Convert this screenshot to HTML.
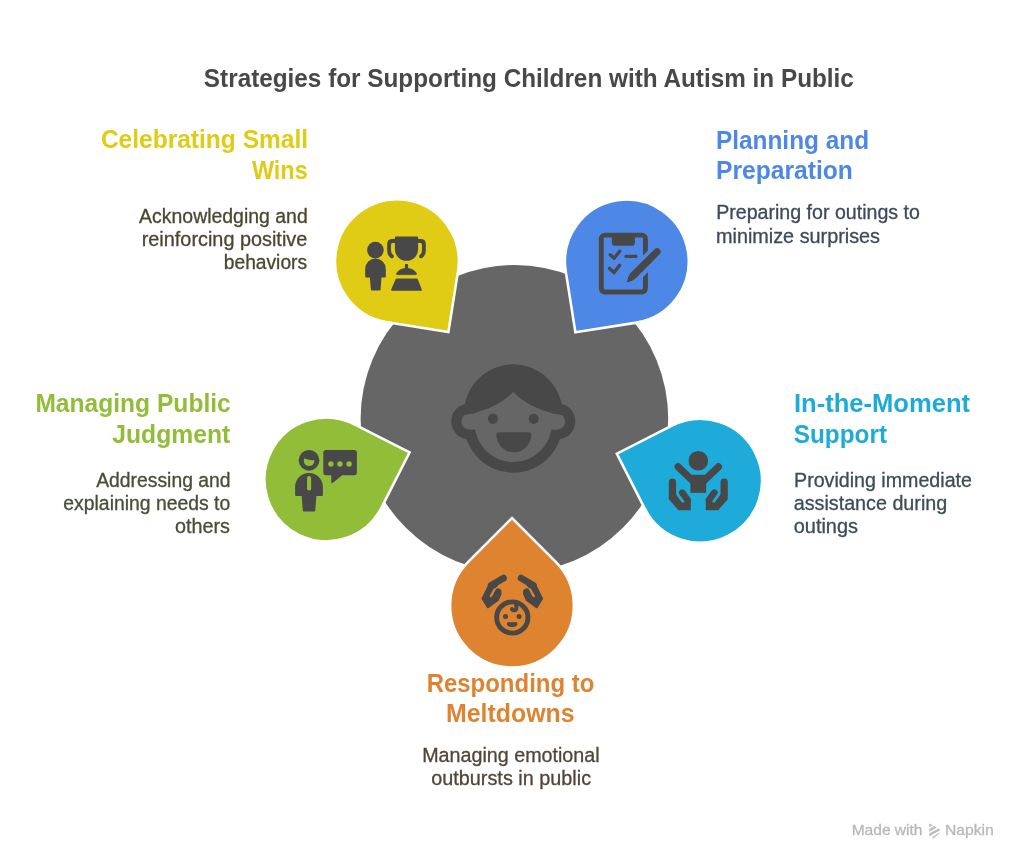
<!DOCTYPE html>
<html lang="en"><head><meta charset="utf-8"><title>Strategies for Supporting Children with Autism in Public</title>
<style>html,body{margin:0;padding:0;background:#fff}body{width:1024px;height:866px;overflow:hidden}svg{display:block;will-change:transform}text{white-space:pre;font-family:"Liberation Sans",sans-serif}</style>
</head><body>
<svg width="1024" height="866" viewBox="0 0 1024 866">
<circle cx="514.4" cy="418.8" r="153.8" fill="#666666"/>
<path d="M448.40,332.00 L458.08,270.86 A61.90,61.90 0 1 0 387.26,322.32 Z" fill="#E0CB15" stroke="#ffffff" stroke-width="2.56" stroke-linejoin="miter"/>
<path d="M575.40,332.30 L636.54,322.62 A61.90,61.90 0 1 0 565.72,271.16 Z" fill="#4E88E7" stroke="#ffffff" stroke-width="2.56" stroke-linejoin="miter"/>
<path d="M409.60,452.40 L354.45,424.30 A61.90,61.90 0 1 0 381.50,507.55 Z" fill="#92BD39" stroke="#ffffff" stroke-width="2.56" stroke-linejoin="miter"/>
<path d="M616.80,453.70 L644.90,508.85 A61.90,61.90 0 1 0 671.95,425.60 Z" fill="#1EABDA" stroke="#ffffff" stroke-width="2.56" stroke-linejoin="miter"/>
<path d="M512.00,518.05 L468.23,561.82 A61.90,61.90 0 1 0 555.77,561.82 Z" fill="#DE8431" stroke="#ffffff" stroke-width="2.56" stroke-linejoin="miter"/>
<circle cx="469.17" cy="421.51" r="17.89" fill="#484848"/>
<circle cx="557.37" cy="421.51" r="17.89" fill="#484848"/>
<path d="M464.09,413.69 A49.18,49.18 0 0 1 562.45,413.69 L562.45,423.48 A49.18,49.18 0 0 1 464.09,423.48 Z" fill="#484848"/>
<path d="M474.66,413.69 A38.61,38.61 0 0 1 551.88,413.69 L551.88,423.48 A38.61,38.61 0 0 1 474.66,423.48 Z" fill="#666666"/>
<circle cx="469.45" cy="421.51" r="8.03" fill="#666666"/>
<circle cx="557.09" cy="421.51" r="8.03" fill="#666666"/>
<rect x="469.45" y="413.48" width="87.64" height="16.06" fill="#666666"/>
<clipPath id="hc"><path d="M464.09,413.69 A49.18,49.18 0 0 1 562.45,413.69 L562.45,423.48 A49.18,49.18 0 0 1 464.09,423.48 Z"/><circle cx="469.17" cy="421.51" r="17.89"/><circle cx="557.37" cy="421.51" r="17.89"/></clipPath>
<path d="M513.27,391.92 Q495.66,410.23 461.14,415.87 L448.45,415.87 L448.45,355.00 L578.09,355.00 L578.09,415.87 L565.41,415.87 Q530.88,410.23 513.27,391.92 Z" fill="#484848" clip-path="url(#hc)"/>
<circle cx="492.98" cy="418.83" r="5.07" fill="#484848"/>
<circle cx="533.70" cy="418.83" r="5.07" fill="#484848"/>
<path d="M496.36,434.42 Q496.36,432.22 498.56,432.22 L529.11,432.22 Q531.31,432.22 531.31,434.42 A17.47,17.81 0 0 1 496.36,434.42 Z" fill="#484848"/>
<circle cx="375.4" cy="250.1" r="8.35" fill="#484848"/>
<path d="M365.2,276.6 L365.2,268.9 A10.3,10.3 0 0 1 385.8,268.9 L385.8,276.6 Q385.8,277.6 384.8,277.6 L381.5,277.6 L380.6,289.6 Q380.5,290.6 379.5,290.6 L372,290.6 Q371,290.6 370.9,289.6 L369.8,277.6 L366.2,277.6 Q365.2,277.6 365.2,276.6 Z" fill="#484848"/>
<path d="M395.9,236.5 L417.1,236.5 Q418.1,236.5 418.1,237.5 L418.1,249.2 A11.6,11.6 0 0 1 394.9,249.2 L394.9,237.5 Q394.9,236.5 395.9,236.5 Z" fill="#484848"/>
<path d="M395.5,241 L392.4,241 Q389.1,241 389.1,244.5 L389.1,250.5 Q389.1,254.3 391.9,256.3" fill="none" stroke="#484848" stroke-width="3.9" stroke-linecap="round"/>
<path d="M417.5,241 L420.6,241 Q423.9,241 423.9,244.5 L423.9,250.5 Q423.9,254.3 421.1,256.3" fill="none" stroke="#484848" stroke-width="3.9" stroke-linecap="round"/>
<rect x="404.9" y="263.9" width="3.2" height="6" rx="0.8" fill="#484848"/>
<path d="M397.3,274.7 Q396.0,274.7 396.6,273.3 Q399.6,268.35 406.5,268.35 Q413.4,268.35 416.4,273.3 Q417.0,274.7 415.7,274.7 Z" fill="#484848" stroke="#484848" stroke-width="0.5" stroke-linejoin="round"/>
<path d="M397.2,278.4 L416.2,278.4 Q417.5,278.4 417.9,279.6 L421.8,289.4 Q422.3,290.8 420.9,290.8 L392.1,290.8 Q390.7,290.8 391.2,289.4 L395.5,279.6 Q395.9,278.4 397.2,278.4 Z" fill="#484848"/>
<rect x="601.25" y="235.15" width="44.2" height="56.8" rx="3.6" fill="none" stroke="#484848" stroke-width="4.9"/>
<path d="M611.8,234 L634.9,234 L634.9,242.7 Q634.9,245.8 631.8,245.8 L614.9,245.8 Q611.8,245.8 611.8,242.7 Z" fill="#484848"/>
<path d="M610.3,254.8 L614.1,258.3 L619.6,251.2" fill="none" stroke="#484848" stroke-width="3.4" stroke-linecap="round" stroke-linejoin="round"/>
<path d="M609.5,268.4 L614.1,272.6 L619.6,265.3" fill="none" stroke="#484848" stroke-width="3.4" stroke-linecap="round" stroke-linejoin="round"/>
<path d="M626.0,256.4 L635.9,256.4" fill="none" stroke="#484848" stroke-width="3.4" stroke-linecap="round"/>
<path d="M660.25,249.05 L629.2,280.1" fill="none" stroke="#4E88E7" stroke-width="15.3" stroke-linecap="butt"/>
<path d="M657.1,251.7 L633.4,275.4" fill="none" stroke="#484848" stroke-width="7.2" stroke-linecap="round"/>
<path d="M630.3,273.4 L635.4,278.5 Q631.5,282 627.6,282.3 Q626.8,282.3 627,281.5 Q627.5,277 630.3,273.4 Z" fill="#484848"/>
<circle cx="309.04" cy="460.3" r="10.35" fill="#484848"/>
<clipPath id="gc"><circle cx="309.04" cy="460.7" r="5.3"/></clipPath>
<path d="M303,457.7 Q308.5,460.8 315,460.0 L316,470 L302,470 Z" fill="#92BD39" clip-path="url(#gc)"/>
<path d="M295.1,494.9 L295.1,486.8 A13.9,13.9 0 0 1 322.9,486.8 L322.9,494.9 Q322.9,496 321.8,496 L316.4,496 L315.2,510.5 Q315.1,511.6 314,511.6 L304,511.6 Q302.9,511.6 302.8,510.5 L301.7,496 L296.2,496 Q295.1,496 295.1,494.9 Z" fill="#484848"/>
<rect x="307.07" y="476" width="4.1" height="14.5" rx="2.05" fill="#92BD39"/>
<path d="M326,449.9 L354.2,449.9 Q356.9,449.9 356.9,452.6 L356.9,472.5 Q356.9,475.2 354.2,475.2 L342.2,475.2 L332.6,482.9 Q331.3,483.8 331.3,482.3 L331.2,475.2 L326,475.2 Q323.3,475.2 323.3,472.5 L323.3,452.6 Q323.3,449.9 326,449.9 Z" fill="#484848"/>
<circle cx="330.9" cy="464.1" r="2.75" fill="#92BD39"/>
<circle cx="339.96" cy="464.1" r="2.75" fill="#92BD39"/>
<circle cx="349.07" cy="464.1" r="2.75" fill="#92BD39"/>
<circle cx="698.3" cy="460.7" r="9.8" fill="#484848"/>
<rect x="690.45" y="474.8" width="15.7" height="18.0" fill="#484848"/>
<path d="M678.2,466.8 L694,482" fill="none" stroke="#484848" stroke-width="7.2" stroke-linecap="round"/>
<path d="M718.40,466.8 L702.60,482" fill="none" stroke="#484848" stroke-width="7.2" stroke-linecap="round"/>
<path d="M668.80,499.20 L668.80,482.05 A3.65,3.65 0 0 1 676.10,482.05 L676.10,494.20 L681.70,502.00 L684.50,501.50 L688.00,496.00 L690.80,499.20 L690.80,510.15 L678.45,510.15 Z" fill="#484848"/>
<path d="M682.30,492.70 L687.50,499.90" fill="none" stroke="#484848" stroke-width="6.7" stroke-linecap="round"/>
<path d="M678.20,495.20 L682.90,501.60" fill="none" stroke="#1EABDA" stroke-width="2.2" stroke-linecap="round"/>
<path d="M727.80,499.20 L727.80,482.05 A3.65,3.65 0 0 0 720.50,482.05 L720.50,494.20 L714.90,502.00 L712.10,501.50 L708.60,496.00 L705.80,499.20 L705.80,510.15 L718.15,510.15 Z" fill="#484848"/>
<path d="M714.30,492.70 L709.10,499.90" fill="none" stroke="#484848" stroke-width="6.7" stroke-linecap="round"/>
<path d="M718.40,495.20 L713.70,501.60" fill="none" stroke="#1EABDA" stroke-width="2.2" stroke-linecap="round"/>
<circle cx="512.3" cy="617.5" r="15.65" fill="none" stroke="#484848" stroke-width="4.9"/>
<circle cx="505.5" cy="616.5" r="2.5" fill="#484848"/>
<circle cx="519.1" cy="616.5" r="2.5" fill="#484848"/>
<path d="M506.9,624 Q506.9,621.6 509,622.0 Q512.2,622.6 515.3,622.0 Q517.4,621.6 517.4,624 Q517.4,627.0 512.15,627.0 Q506.9,627.0 506.9,624 Z" fill="#484848"/>
<path d="M516.2,603.8 L516.4,607.6 Q516.5,610.2 514.1,610.2 Q512.3,610.2 512.0,609.0" fill="none" stroke="#484848" stroke-width="4.0" stroke-linecap="round"/>
<path d="M503.50,578.10 L491.20,585.40" fill="none" stroke="#484848" stroke-width="6.7" stroke-linecap="round"/>
<path d="M489.60,583.90 L482.30,598.70 L487.80,607.50 L498.10,600.00 L500.90,593.60 L497.00,595.50 L492.60,597.40 L490.50,596.30 L494.60,588.00 L497.40,585.00 Z" fill="#484848" stroke="#484848" stroke-width="1.6" stroke-linejoin="round"/>
<path d="M498.10,591.70 L495.20,597.60" fill="none" stroke="#484848" stroke-width="6.6" stroke-linecap="round"/>
<path d="M494.50,589.20 L490.60,596.20" fill="none" stroke="#DE8431" stroke-width="2.0" stroke-linecap="round"/>
<path d="M521.10,578.10 L533.40,585.40" fill="none" stroke="#484848" stroke-width="6.7" stroke-linecap="round"/>
<path d="M535.00,583.90 L542.30,598.70 L536.80,607.50 L526.50,600.00 L523.70,593.60 L527.60,595.50 L532.00,597.40 L534.10,596.30 L530.00,588.00 L527.20,585.00 Z" fill="#484848" stroke="#484848" stroke-width="1.6" stroke-linejoin="round"/>
<path d="M526.50,591.70 L529.40,597.60" fill="none" stroke="#484848" stroke-width="6.6" stroke-linecap="round"/>
<path d="M530.10,589.20 L534.00,596.20" fill="none" stroke="#DE8431" stroke-width="2.0" stroke-linecap="round"/>
<text x="203.87" y="86.60" font-size="25.1" font-family="Liberation Sans, sans-serif" font-weight="700" fill="#484848" textLength="650.01" lengthAdjust="spacingAndGlyphs">Strategies for Supporting Children with Autism in Public</text>
<text x="100.92" y="148.30" font-size="25.1" font-family="Liberation Sans, sans-serif" font-weight="700" fill="#E0CB15" textLength="207.16" lengthAdjust="spacingAndGlyphs">Celebrating Small</text>
<text x="251.90" y="179.30" font-size="25.1" font-family="Liberation Sans, sans-serif" font-weight="700" fill="#E0CB15" textLength="55.82" lengthAdjust="spacingAndGlyphs">Wins</text>
<text x="139.10" y="223.20" font-size="19.3" font-family="Liberation Sans, sans-serif" font-weight="400" fill="#4A4730" stroke="#4A4730" stroke-width="0.3" textLength="168.64" lengthAdjust="spacingAndGlyphs">Acknowledging and</text>
<text x="141.71" y="246.20" font-size="19.3" font-family="Liberation Sans, sans-serif" font-weight="400" fill="#4A4730" stroke="#4A4730" stroke-width="0.3" textLength="165.58" lengthAdjust="spacingAndGlyphs">reinforcing positive</text>
<text x="223.75" y="269.40" font-size="19.3" font-family="Liberation Sans, sans-serif" font-weight="400" fill="#4A4730" stroke="#4A4730" stroke-width="0.3" textLength="83.35" lengthAdjust="spacingAndGlyphs">behaviors</text>
<text x="716.00" y="148.50" font-size="25.1" font-family="Liberation Sans, sans-serif" font-weight="700" fill="#4E88E7" textLength="153.05" lengthAdjust="spacingAndGlyphs">Planning and</text>
<text x="715.98" y="179.40" font-size="25.1" font-family="Liberation Sans, sans-serif" font-weight="700" fill="#4E88E7" textLength="136.84" lengthAdjust="spacingAndGlyphs">Preparation</text>
<text x="716.18" y="219.30" font-size="19.3" font-family="Liberation Sans, sans-serif" font-weight="400" fill="#3E495B" stroke="#3E495B" stroke-width="0.3" textLength="203.78" lengthAdjust="spacingAndGlyphs">Preparing for outings to</text>
<text x="716.02" y="242.50" font-size="19.3" font-family="Liberation Sans, sans-serif" font-weight="400" fill="#3E495B" stroke="#3E495B" stroke-width="0.3" textLength="163.94" lengthAdjust="spacingAndGlyphs">minimize surprises</text>
<text x="793.92" y="412.30" font-size="25.1" font-family="Liberation Sans, sans-serif" font-weight="700" fill="#1EABDA" textLength="176.23" lengthAdjust="spacingAndGlyphs">In-the-Moment</text>
<text x="793.77" y="442.80" font-size="25.1" font-family="Liberation Sans, sans-serif" font-weight="700" fill="#1EABDA" textLength="93.25" lengthAdjust="spacingAndGlyphs">Support</text>
<text x="794.07" y="486.60" font-size="19.3" font-family="Liberation Sans, sans-serif" font-weight="400" fill="#3C4D56" stroke="#3C4D56" stroke-width="0.3" textLength="177.88" lengthAdjust="spacingAndGlyphs">Providing immediate</text>
<text x="793.73" y="509.60" font-size="19.3" font-family="Liberation Sans, sans-serif" font-weight="400" fill="#3C4D56" stroke="#3C4D56" stroke-width="0.3" textLength="153.51" lengthAdjust="spacingAndGlyphs">assistance during</text>
<text x="793.72" y="532.80" font-size="19.3" font-family="Liberation Sans, sans-serif" font-weight="400" fill="#3C4D56" stroke="#3C4D56" stroke-width="0.3" textLength="64.29" lengthAdjust="spacingAndGlyphs">outings</text>
<text x="35.39" y="412.30" font-size="25.1" font-family="Liberation Sans, sans-serif" font-weight="700" fill="#92BD39" textLength="195.37" lengthAdjust="spacingAndGlyphs">Managing Public</text>
<text x="112.21" y="442.90" font-size="25.1" font-family="Liberation Sans, sans-serif" font-weight="700" fill="#92BD39" textLength="118.09" lengthAdjust="spacingAndGlyphs">Judgment</text>
<text x="96.20" y="486.60" font-size="19.3" font-family="Liberation Sans, sans-serif" font-weight="400" fill="#474E35" stroke="#474E35" stroke-width="0.3" textLength="134.35" lengthAdjust="spacingAndGlyphs">Addressing and</text>
<text x="63.35" y="509.60" font-size="19.3" font-family="Liberation Sans, sans-serif" font-weight="400" fill="#474E35" stroke="#474E35" stroke-width="0.3" textLength="166.88" lengthAdjust="spacingAndGlyphs">explaining needs to</text>
<text x="175.03" y="532.80" font-size="19.3" font-family="Liberation Sans, sans-serif" font-weight="400" fill="#474E35" stroke="#474E35" stroke-width="0.3" textLength="54.88" lengthAdjust="spacingAndGlyphs">others</text>
<text x="426.63" y="691.50" font-size="25.1" font-family="Liberation Sans, sans-serif" font-weight="700" fill="#DE8431" textLength="167.72" lengthAdjust="spacingAndGlyphs">Responding to</text>
<text x="445.96" y="722.00" font-size="25.1" font-family="Liberation Sans, sans-serif" font-weight="700" fill="#DE8431" textLength="128.68" lengthAdjust="spacingAndGlyphs">Meltdowns</text>
<text x="422.17" y="762.10" font-size="19.3" font-family="Liberation Sans, sans-serif" font-weight="400" fill="#514539" stroke="#514539" stroke-width="0.3" textLength="177.47" lengthAdjust="spacingAndGlyphs">Managing emotional</text>
<text x="431.23" y="785.00" font-size="19.3" font-family="Liberation Sans, sans-serif" font-weight="400" fill="#514539" stroke="#514539" stroke-width="0.3" textLength="159.86" lengthAdjust="spacingAndGlyphs">outbursts in public</text>
<text x="851.67" y="834.90" font-size="14.6" font-family="Liberation Sans, sans-serif" font-weight="400" fill="#B8B8B8" stroke="#B8B8B8" stroke-width="0.3" textLength="70.81" lengthAdjust="spacingAndGlyphs">Made with</text>
<text x="944.96" y="834.90" font-size="14.6" font-family="Liberation Sans, sans-serif" font-weight="400" fill="#B8B8B8" stroke="#B8B8B8" stroke-width="0.3" textLength="48.85" lengthAdjust="spacingAndGlyphs">Napkin</text>
<g fill="#BEBEBE"><path d="M929.2,823.3 L932.9,825.4 L929.2,827.15 Z"/><path d="M929.2,828.9 L934.2,826.1 L937.0,827.4 L929.2,831.7 Z"/><path d="M929.2,833.5 L938.3,828.45 L940.7,829.9 L929.2,836.5 Z"/><path d="M932.1,837.3 L939.1,832.4 L939.7,832.9 L933.2,838.7 Z"/></g>
</svg>
</body></html>
